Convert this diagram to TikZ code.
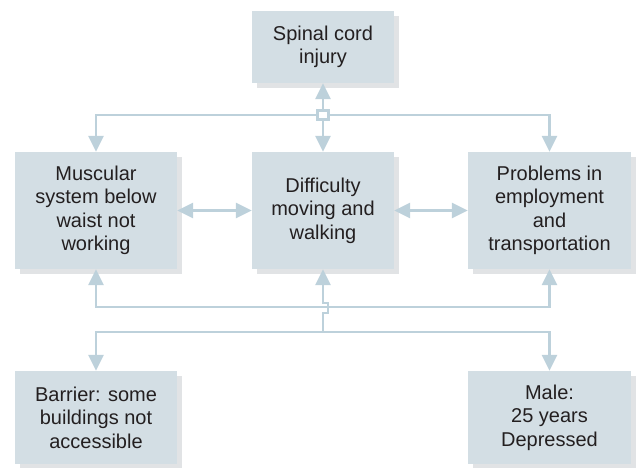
\documentclass[tikz,border=0pt]{standalone}
\usepackage{fontspec}
\setmainfont{Liberation Sans}
\usepackage{tikz}
\usetikzlibrary{calc,positioning,arrows,arrows.meta,shadows}
\definecolor{boxfill}{HTML}{D3DEE4}
\definecolor{linkcol}{HTML}{BDD1DB}
\definecolor{shadecol}{HTML}{E1E3E5}
\definecolor{txtcol}{HTML}{231F20}

\begin{document}
\begin{tikzpicture}[x=1pt,y=1pt, >={Triangle[length=16pt,width=15pt]},
  box/.style={fill=boxfill,inner sep=0pt,align=center,text=txtcol,
    font=\fontsize{20}{23.5}\selectfont,
    drop shadow={shadow xshift=5pt,shadow yshift=-5pt,fill=shadecol,opacity=1}},
  link/.style={draw=linkcol,line width=2.6pt},
  hubbox/.style={draw=linkcol,fill=white,line width=2.2pt,minimum width=11pt,minimum height=9pt,inner sep=0pt}]
            \useasboundingbox (0,0) rectangle (637,468);

            \node[box,minimum width=142pt,minimum height=72pt] (spinal) at (323,421) {Spinal cord\\injury};

            \node[box,minimum width=162pt,minimum height=117pt] (musc) at (96,257.5) {Muscular\\system below\\waist not\\working};
            \node[box,minimum width=142pt,minimum height=117pt] (diff) at (323,257.5) {Difficulty\\moving and\\walking};
            \node[box,minimum width=163pt,minimum height=117pt] (prob) at (549.5,257.5) {Problems in\\employment\\and\\transportation};

            \node[box,minimum width=162pt,minimum height=93pt] (barrier) at (96,50.5) {Barrier: some\\buildings not\\accessible};
            \node[box,minimum width=163pt,minimum height=93pt] (male) at (549.5,50.5) {Male:\\25 years\\Depressed};

            % top junction
            \coordinate (hubpt) at (323,353);
            \draw[link,->] (hubpt) -| (musc.north);
            \draw[link,->] (hubpt) -| (prob.north);
            \draw[link,<->] (spinal.south) -- (diff.north);
            \node[hubbox] (hub) at (hubpt) {};

            % middle row
            \draw[link,<->] (musc) -- (diff);
            \draw[link,<->] (diff) -- (prob);

            % bottom junction
            \coordinate (join) at (323,161);
            \coordinate (split) at (323,136);
            \draw[link,->] (join) -| (musc.south);
            \draw[link,->] (join) -| (prob.south);
            \draw[link,->] (split) -| (barrier.north);
            \draw[link,->] (split) -| (male.north);
            \draw[link,->] (split) -- ++(0,19) -- ++(5,0) -- ++(0,10) -- ++(-5,0) -- (diff.south);
          \end{tikzpicture}
\end{document}
